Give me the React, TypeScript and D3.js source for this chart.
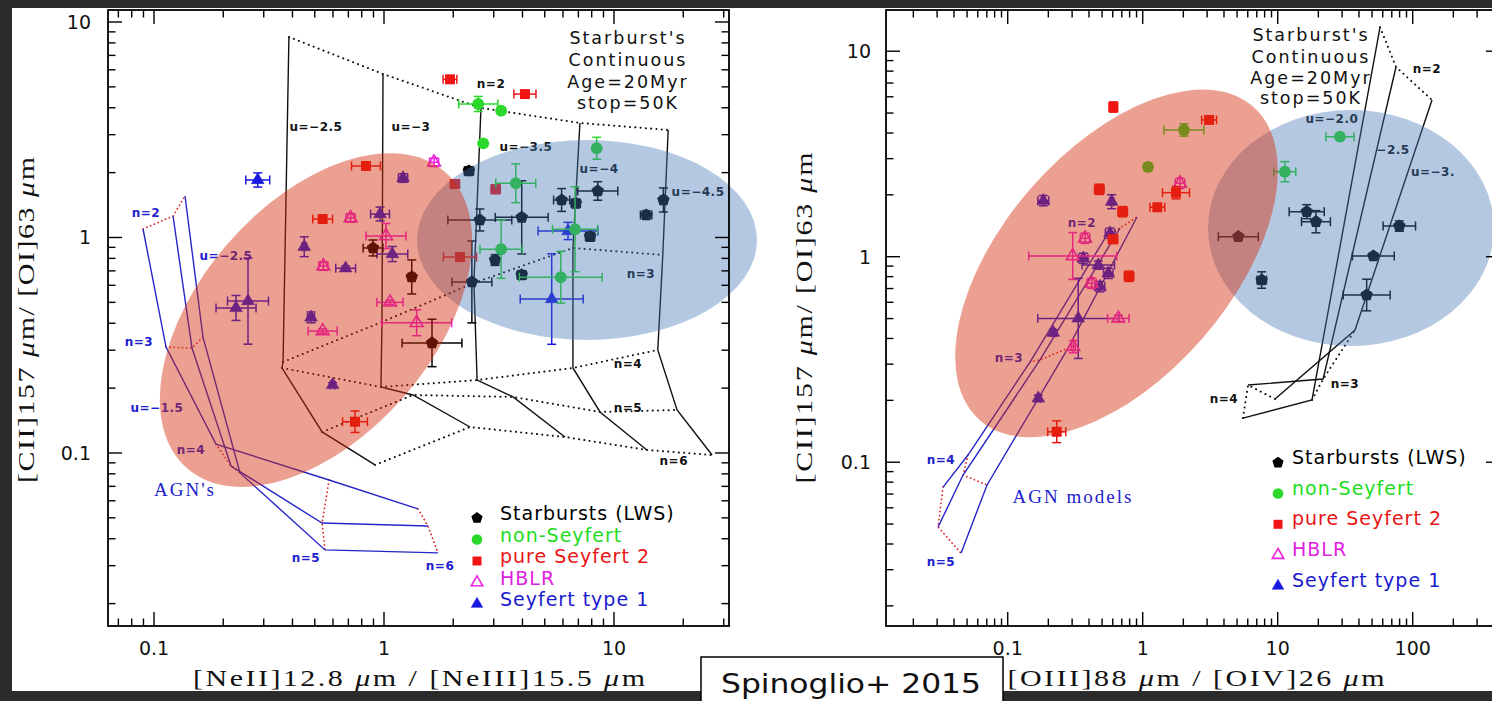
import React from 'react';
import * as d3 from 'd3';

type Pt = [number, number, number, number]; // x, y, x error (dex), y error (dex)
type XY = [number, number];
type Lbl = [string, number, number];

// ---------- [NeII]12.8 / [NeIII]15.5 panel ----------
const neStarbursts: Pt[] = [
  [2.34, 2.035, 0.02, 0.02],
  [0.896, 0.894, 0.043, 0.037],
  [1.32, 0.656, 0.015, 0.079],
  [1.617, 0.324, 0.13, 0.11],
  [2.61, 1.206, 0.139, 0.051],
  [2.41, 0.622, 0.087, 0.19],
  [3.97, 1.24, 0.115, 0.17],
  [8.5, 1.644, 0.087, 0.043],
  [5.92, 1.493, 0.035, 0.053],
  [6.82, 1.441, 0.02, 0.02],
  [16.4, 1.493, 0.015, 0.056],
  [13.8, 1.272, 0.025, 0.02],
  [7.87, 1.009, 0.02, 0.02],
  [3.04, 0.786, 0.015, 0.025],
  [3.97, 0.67, 0.02, 0.02],
];
const neNonSeyfert: Pt[] = [
  [2.57, 4.165, 0.085, 0.035],
  [3.23, 3.876, 0.01, 0.01],
  [2.7, 2.735, 0.01, 0.01],
  [8.41, 2.594, 0.01, 0.051],
  [3.74, 1.785, 0.087, 0.09],
  [6.77, 1.092, 0.098, 0.197],
  [3.23, 0.882, 0.092, 0.135],
  [5.87, 0.654, 0.18, 0.12],
];
const neSeyfert2: Pt[] = [
  [1.936, 5.42, 0.03, 0.015],
  [4.1, 4.63, 0.048, 0.01],
  [0.835, 2.147, 0.063, 0.01],
  [0.541, 1.218, 0.043, 0.01],
  [2.035, 1.771, 0.02, 0.015],
  [3.06, 1.674, 0.02, 0.02],
  [2.14, 0.812, 0.072, 0.01],
  [0.748, 0.1397, 0.054, 0.05],
];
const neHBLR: Pt[] = [
  [0.716, 1.232, 0.02, 0.02],
  [1.65, 2.233, 0.02, 0.02],
  [1.02, 1.016, 0.087, 0.058],
  [0.545, 0.737, 0.02, 0.02],
  [1.062, 0.5, 0.057, 0.01],
  [0.541, 0.368, 0.063, 0.01],
  [1.387, 0.402, 0.152, 0.06],
];
const neSeyfert1: Pt[] = [
  [0.2825, 1.849, 0.052, 0.033],
  [0.2273, 0.471, 0.087, 0.058],
  [0.2563, 0.507, 0.089, 0.2],
  [0.45, 0.906, 0.01, 0.046],
  [0.681, 0.72, 0.043, 0.01],
  [0.4815, 0.426, 0.015, 0.025],
  [0.961, 1.285, 0.041, 0.032],
  [1.087, 0.838, 0.067, 0.035],
  [1.21, 1.888, 0.02, 0.02],
  [0.598, 0.207, 0.01, 0.01],
  [5.36, 0.518, 0.137, 0.21],
  [6.31, 1.072, 0.13, 0.04],
];

// starburst photoionisation grid: one row per ionisation parameter, columns n=2..6
const neSbGrid: XY[][] = [
  [[0.386, 8.52], [0.364, 0.2645], [0.36, 0.248], [0.538, 0.1252], [0.914, 0.088]],
  [[0.99, 5.74], [0.98, 0.4055], [0.97, 0.2025], [1.337, 0.1858], [2.365, 0.132]],
  [[2.64, 3.99], [2.46, 0.615], [2.54, 0.218], [3.64, 0.182], [6.12, 0.1186]],
  [[7.11, 3.4], [6.63, 0.894], [6.63, 0.248], [8.69, 0.155], [13.9, 0.1033]],
  [[17.2, 3.155], [16.3, 0.83], [15.5, 0.3006], [18.8, 0.1583], [26.7, 0.0979]],
];
// AGN grid: rows = ionisation parameter, columns n=2..6
const neAgnGrid: XY[][] = [
  [[0.0896, 1.095], [0.1128, 0.31], [0.186, 0.11], [0.577, 0.0749], [1.405, 0.055]],
  [[0.121, 1.258], [0.1463, 0.307], [0.2163, 0.087], [0.538, 0.0473], [1.553, 0.0458]],
  [[0.1364, 1.558], [0.1633, 0.345], [0.2366, 0.0808], [0.554, 0.0355], [1.718, 0.0344]],
];
const neSbLabels: Lbl[] = [
  ['u=−2.5', 0.506, 3.29], ['u=−3', 1.31, 3.29], ['u=−3.5', 4.14, 2.63],
  ['u=−4', 8.61, 2.08], ['u=−4.5', 23.2, 1.64], ['n=2', 2.92, 5.21],
  ['n=3', 13.1, 0.684], ['n=4', 11.5, 0.259], ['n=5', 11.5, 0.1634], ['n=6', 18.2, 0.0918],
];
const neAgnLabels: Lbl[] = [
  ['n=2', 0.0923, 1.313], ['u=−2.5', 0.2056, 0.821], ['n=3', 0.086, 0.3274],
  ['u=−1.5', 0.103, 0.1634], ['n=4', 0.1448, 0.1033], ['n=5', 0.458, 0.0326], ['n=6', 1.752, 0.0302],
];
const neAgnTitle: Lbl = ["AGN's", 0.1364, 0.0673];

// ---------- [OIII]88 / [OIV]26 panel ----------
const oStarbursts: Pt[] = [
  [16.4, 1.656, 0.13, 0.034],
  [19.2, 1.48, 0.107, 0.054],
  [79.6, 1.41, 0.12, 0.025],
  [5.11, 1.251, 0.148, 0.015],
  [51.1, 1.008, 0.155, 0.015],
  [45.6, 0.651, 0.174, 0.077],
  [7.61, 0.77, 0.035, 0.04],
];
const oNonSeyfert: Pt[] = [
  [2.02, 4.136, 0.148, 0.03],
  [1.094, 2.732, 0.02, 0.02],
  [28.9, 3.837, 0.104, 0.01],
  [11.3, 2.592, 0.081, 0.049],
];
const oSeyfert2: Pt[] = [
  [0.606, 5.35, 0.03, 0.025],
  [3.1, 4.63, 0.055, 0.015],
  [0.477, 2.128, 0.035, 0.025],
  [0.711, 1.656, 0.035, 0.025],
  [1.765, 2.049, 0.1, 0.03],
  [1.283, 1.74, 0.055, 0.015],
  [0.603, 1.215, 0.035, 0.02],
  [0.792, 0.803, 0.035, 0.025],
  [0.2307, 0.1407, 0.067, 0.053],
];
const oHBLR: Pt[] = [
  [1.89, 2.276, 0.035, 0.025],
  [0.374, 1.229, 0.035, 0.025],
  [0.303, 1.008, 0.326, 0.114],
  [0.419, 0.742, 0.035, 0.025],
  [0.66, 0.501, 0.08, 0.015],
  [0.306, 0.365, 0.015, 0.03],
];
const oSeyfert1: Pt[] = [
  [0.1835, 1.873, 0.04, 0.025],
  [0.589, 1.852, 0.015, 0.034],
  [0.573, 1.3, 0.035, 0.025],
  [0.363, 0.982, 0.035, 0.025],
  [0.469, 0.911, 0.12, 0.02],
  [0.556, 0.83, 0.035, 0.025],
  [0.483, 0.715, 0.035, 0.025],
  [0.333, 0.501, 0.3, 0.195],
  [0.2177, 0.427, 0.015, 0.015],
  [0.1685, 0.2046, 0.015, 0.015],
];
// starburst grid: rows u=-2.0, -2.5, -3.0; columns n=2..4
const oSbGrid: XY[][] = [
  [[57.3, 13.1], [17.95, 0.2008], [5.53, 0.164]],
  [[75.2, 8.38], [21.7, 0.254], [6.03, 0.2375]],
  [[139, 5.79], [37.4, 0.44], [9.55, 0.203]],
];
// AGN grid: columns n=2..5
const oAgnGrid: XY[][] = [
  [[0.526, 1.233], [0.1463, 0.3073], [0.0508, 0.1084], [0.0332, 0.0757]],
  [[0.679, 1.379], [0.1734, 0.3144], [0.0467, 0.0866], [0.0305, 0.0484]],
  [[0.907, 1.56], [0.28, 0.3594], [0.0703, 0.0775], [0.0451, 0.0361]],
];
const oSbLabels: Lbl[] = [
  ['n=2', 127.6, 8.28], ['u=−2.0', 25.2, 4.68], ['−2.5', 71.5, 3.31],
  ['u=−3.', 141.4, 2.584], ['n=3', 31.5, 0.2429], ['n=4', 4.0, 0.2053],
];
const oAgnLabels: Lbl[] = [
  ['n=2', 0.355, 1.459], ['n=3', 0.1022, 0.325], ['n=4', 0.032, 0.1036], ['n=5', 0.032, 0.0327],
];
const oAgnTitle: Lbl = ['AGN models', 0.3046, 0.0677];

// tick labels
const neXTickLabels = [0.1, 1, 10];
const oXTickLabels = [0.1, 1, 10, 100];
const ciiTickLabels = [0.1, 1, 10];

const classNames = ['Starbursts (LWS)', 'non-Seyfert', 'pure Seyfert 2', 'HBLR', 'Seyfert type 1'];
const sbTitle = ["Starburst's", 'Continuous', 'Age=20Myr', 'stop=50K'];

const STYLE = [
  { shape: 'pentagon', color: '#000000', text: '#000000', open: false },
  { shape: 'circle', color: '#2bd82b', text: '#22dd22', open: false },
  { shape: 'square', color: '#f01414', text: '#e81414', open: false },
  { shape: 'triangle', color: '#ee22dd', text: '#dd22dd', open: true },
  { shape: 'triangle', color: '#1818e0', text: '#1a1acc', open: false },
];
// draw order: Sy1, HBLR, starbursts, Sy2, non-Seyfert
const DRAW_ORDER = [4, 3, 0, 2, 1];

const SANS = 'DejaVu Sans, Verdana, sans-serif';
const SERIF = 'Liberation Serif, Times New Roman, serif';
const TITLE_STRETCH = 1.25;

function pentagon(r: number) {
  const pts = d3.range(5).map((k) => {
    const a = -Math.PI / 2 + (k * 2 * Math.PI) / 5;
    return [r * Math.cos(a), r * Math.sin(a)];
  });
  return 'M' + pts.map((p) => p[0].toFixed(2) + ',' + p[1].toFixed(2)).join('L') + 'Z';
}

function Marker({ k, cx, cy, scale = 1 }: { k: number; cx: number; cy: number; scale?: number }) {
  const st = STYLE[k];
  const t = `translate(${cx},${cy})`;
  if (st.shape === 'pentagon') return <path d={pentagon(6.6 * scale)} transform={t} fill={st.color} />;
  if (st.shape === 'circle')
    return <path d={d3.symbol(d3.symbolCircle, 110 * scale * scale)()!} transform={t} fill={st.color} />;
  if (st.shape === 'square')
    return <path d={d3.symbol(d3.symbolSquare, 100 * scale * scale)()!} transform={t} fill={st.color} />;
  return (
    <path
      d={d3.symbol(d3.symbolTriangle, 70 * scale * scale)()!}
      transform={t}
      fill={st.open ? 'none' : st.color}
      stroke={st.color}
      strokeWidth={st.open ? 1.6 : 0.6}
    />
  );
}

function logTicks(lo: number, hi: number) {
  const out: { v: number; major: boolean }[] = [];
  for (let d = Math.floor(Math.log10(lo)); d <= Math.ceil(Math.log10(hi)); d++) {
    for (let m = 1; m <= 9; m++) {
      const v = m * Math.pow(10, d);
      if (v > lo * 1.001 && v < hi / 1.001) out.push({ v, major: m === 1 });
    }
  }
  return out;
}
const fmt = (v: number) => (v >= 1 ? String(Math.round(v)) : String(+v.toPrecision(1)));

interface PanelCfg {
  id: string;
  frame: { x0: number; x1: number; y0: number; y1: number };
  xDomain: [number, number];
  yDomain: [number, number];
  xLabels: number[];
  yLabels: number[];
  yLabelGap: number;
  series: Pt[][];
  sbGrid: XY[][];
  agnGrid: XY[][];
  sbLabels: Lbl[];
  agnLabels: Lbl[];
  agnTitle: Lbl;
  blue: { cx: number; cy: number; rx: number; ry: number; rot: number };
  red: { cx: number; cy: number; rx: number; ry: number; rot: number };
  titleX: number;
  titleY: number[];
  legend: { mx: number; tx: number; y0: number; dy: number; mOff: number };
  xTitle: { cx: number; y: number; len: number; a: string; b: string; c: string };
  yTitle: { x: number; cy: number; len: number };
}

const panels: PanelCfg[] = [
  {
    id: 'ne',
    frame: { x0: 108, x1: 729, y0: 10, y1: 626 },
    xDomain: [0.063096, 31.623],
    yDomain: [0.015744, 11.368],
    xLabels: neXTickLabels,
    yLabels: ciiTickLabels,
    yLabelGap: 17,
    series: [neStarbursts, neNonSeyfert, neSeyfert2, neHBLR, neSeyfert1],
    sbGrid: neSbGrid,
    agnGrid: neAgnGrid,
    sbLabels: neSbLabels,
    agnLabels: neAgnLabels,
    agnTitle: neAgnTitle,
    blue: { cx: 7.63, cy: 0.974, rx: 170, ry: 100, rot: 0 },
    red: { cx: 0.506, cy: 0.414, rx: 196.5, ry: 116.7, rot: -49 },
    titleX: 628,
    titleY: [44, 66, 88, 109],
    legend: { mx: 477, tx: 500, y0: 513, dy: 21.5, mOff: 5 },
    xTitle: { cx: 419, y: 686, len: 452, a: '[NeII]12.8 ', b: 'm / [NeIII]15.5 ', c: 'm' },
    yTitle: { x: 27.5, cy: 320, len: 326 },
  },
  {
    id: 'o',
    frame: { x0: 886, x1: 1500, y0: 10, y1: 626 },
    xDomain: [0.012543, 443.3],
    yDomain: [0.01596, 15.866],
    xLabels: oXTickLabels,
    yLabels: ciiTickLabels,
    yLabelGap: 15,
    series: [oStarbursts, oNonSeyfert, oSeyfert2, oHBLR, oSeyfert1],
    sbGrid: oSbGrid,
    agnGrid: oAgnGrid,
    sbLabels: oSbLabels,
    agnLabels: oAgnLabels,
    agnTitle: oAgnTitle,
    blue: { cx: 34.9, cy: 1.379, rx: 143, ry: 118, rot: 0 },
    red: { cx: 0.64, cy: 0.927, rx: 208, ry: 114, rot: -49 },
    titleX: 1311,
    titleY: [41, 62.5, 84, 104],
    legend: { mx: 1278, tx: 1292, y0: 456.7, dy: 30.8, mOff: 6 },
    xTitle: { cx: 1196, y: 686, len: 377, a: '[OIII]88 ', b: 'm / [OIV]26 ', c: 'm' },
    yTitle: { x: 806, cy: 318, len: 331 },
  },
];

function ErrBars({ pt, x, y, color }: { pt: Pt; x: any; y: any; color: string }) {
  const [vx, vy, ex, ey] = pt;
  const cx = x(vx), cy = y(vy);
  const cap = 4.5;
  const xl = x(vx / Math.pow(10, ex)), xr = x(vx * Math.pow(10, ex));
  const yt = y(vy * Math.pow(10, ey)), yb = y(vy / Math.pow(10, ey));
  return (
    <g stroke={color} strokeWidth={1.5} fill="none">
      {ex > 0 && (
        <>
          <line x1={xl} x2={xr} y1={cy} y2={cy} />
          <line x1={xl} x2={xl} y1={cy - cap} y2={cy + cap} />
          <line x1={xr} x2={xr} y1={cy - cap} y2={cy + cap} />
        </>
      )}
      {ey > 0 && (
        <>
          <line x1={cx} x2={cx} y1={yt} y2={yb} />
          <line x1={cx - cap} x2={cx + cap} y1={yt} y2={yt} />
          <line x1={cx - cap} x2={cx + cap} y1={yb} y2={yb} />
        </>
      )}
    </g>
  );
}

function Panel({ p }: { p: PanelCfg }) {
  const { x0, x1, y0, y1 } = p.frame;
  const x = d3.scaleLog().domain(p.xDomain).range([x0, x1]);
  const y = d3.scaleLog().domain(p.yDomain).range([y1, y0]);
  const line = d3.line<XY>().x((d) => x(d[0])).y((d) => y(d[1]));
  const sbIso = d3.range(p.sbGrid[0].length).map((j) => p.sbGrid.map((r) => r[j]));
  const agnIso = d3.range(p.agnGrid[0].length).map((j) => p.agnGrid.map((r) => r[j]));
  const xt = logTicks(p.xDomain[0], p.xDomain[1]);
  const yt = logTicks(p.yDomain[0], p.yDomain[1]);
  const MAJ = 14, MIN = 7.5;
  const ell = (e: PanelCfg['blue']) => {
    const cx = x(e.cx), cy = y(e.cy);
    return { cx, cy, rx: e.rx, ry: e.ry, transform: `rotate(${e.rot} ${cx} ${cy})` };
  };
  return (
    <g>
      {/* AGN model grid */}
      {agnIso.map((r, i) => (
        <path key={'an' + i} d={line(r)!} fill="none" stroke="#e02a2a" strokeWidth={1.8}
          strokeDasharray="0.1 4" strokeLinecap="round" />
      ))}
      {p.agnGrid.map((r, i) => (
        <path key={'au' + i} d={line(r)!} fill="none" stroke="#2626c8" strokeWidth={1.4} />
      ))}
      {/* starburst model grid */}
      {sbIso.map((r, i) => (
        <path key={'sn' + i} d={line(r)!} fill="none" stroke="#111" strokeWidth={2}
          strokeDasharray="0.1 5.2" strokeLinecap="round" />
      ))}
      {p.sbGrid.map((r, i) => (
        <path key={'su' + i} d={line(r)!} fill="none" stroke="#111" strokeWidth={1.4} />
      ))}
      {p.sbLabels.map(([t, vx, vy], i) => (
        <text key={'sl' + i} x={x(vx)} y={y(vy) + 4.5} textAnchor="middle" fontFamily={SANS}
          fontWeight="bold" fontSize={12} letterSpacing={0.5} fill="#111">{t}</text>
      ))}
      {p.agnLabels.map(([t, vx, vy], i) => (
        <text key={'al' + i} x={x(vx)} y={y(vy) + 4.5} textAnchor="middle" fontFamily={SANS}
          fontWeight="bold" fontSize={12} letterSpacing={0.5} fill="#2020cc">{t}</text>
      ))}
      <text x={x(p.agnTitle[1])} y={y(p.agnTitle[2]) + 6} textAnchor="middle" fontFamily={SERIF}
        fontSize={19} letterSpacing={2} fill="#2020cc">{p.agnTitle[0]}</text>

      {/* observed galaxies */}
      {DRAW_ORDER.map((k) => (
        <g key={'s' + k}>
          {p.series[k].map((pt, i) => (
            <g key={i}>
              <ErrBars pt={pt} x={x} y={y} color={STYLE[k].color} />
              <Marker k={k} cx={x(pt[0])} cy={y(pt[1])} />
            </g>
          ))}
        </g>
      ))}

      {/* loci of starburst- and AGN-dominated sources */}
      <ellipse {...ell(p.blue)} fill="rgb(67,117,180)" fillOpacity={0.4} />
      <ellipse {...ell(p.red)} fill="rgb(213,44,11)" fillOpacity={0.45} />

      {/* frame and ticks */}
      <rect x={x0} y={y0} width={x1 - x0} height={y1 - y0} fill="none" stroke="#000" strokeWidth={1.8} />
      <g stroke="#000" strokeWidth={1.4}>
        {xt.map((t, i) => {
          const px = x(t.v), L = t.major ? MAJ : MIN;
          return (
            <g key={'xt' + i}>
              <line x1={px} x2={px} y1={y1} y2={y1 - L} />
              <line x1={px} x2={px} y1={y0} y2={y0 + L} />
            </g>
          );
        })}
        {yt.map((t, i) => {
          const py = y(t.v), L = t.major ? MAJ : MIN;
          return (
            <g key={'yt' + i}>
              <line x1={x0} x2={x0 + L} y1={py} y2={py} />
              <line x1={x1} x2={x1 - L} y1={py} y2={py} />
            </g>
          );
        })}
      </g>
      {p.xLabels.map((v) => (
        <text key={'xl' + v} x={x(v)} y={y1 + 29} textAnchor="middle" fontFamily={SANS} fontSize={19} fill="#111">
          {fmt(v)}
        </text>
      ))}
      {p.yLabels.map((v) => (
        <text key={'yl' + v} x={x0 - p.yLabelGap} y={y(v) + 7} textAnchor="end" fontFamily={SANS} fontSize={19} fill="#111">
          {fmt(v)}
        </text>
      ))}

      {/* axis titles */}
      <text transform={`translate(${p.xTitle.cx},${p.xTitle.y}) scale(${TITLE_STRETCH},1)`} x={0} y={0}
        textAnchor="middle" fontFamily={SERIF} fontSize={24} fill="#111"
        textLength={p.xTitle.len / TITLE_STRETCH} lengthAdjust="spacing">
        {p.xTitle.a}
        <tspan fontStyle="italic">μ</tspan>
        {p.xTitle.b}
        <tspan fontStyle="italic">μ</tspan>
        {p.xTitle.c}
      </text>
      <text transform={`translate(${p.yTitle.x},${p.yTitle.cy}) rotate(-90) scale(${TITLE_STRETCH},1)`} x={0} y={6}
        textAnchor="middle" fontFamily={SERIF} fontSize={24} fill="#111"
        textLength={p.yTitle.len / TITLE_STRETCH} lengthAdjust="spacing">
        [CII]157 <tspan fontStyle="italic">μ</tspan>m/ [OI]63 <tspan fontStyle="italic">μ</tspan>m
      </text>

      {/* starburst model description */}
      {sbTitle.map((t, i) => (
        <text key={'tt' + i} x={p.titleX} y={p.titleY[i]} textAnchor="middle" fontFamily={SANS} fontSize={17.5}
          letterSpacing={2} fill="#111">{t}</text>
      ))}

      {/* legend */}
      {classNames.map((name, k) => {
        const cy = p.legend.y0 + k * p.legend.dy;
        return (
          <g key={'lg' + k}>
            <Marker k={k} cx={p.legend.mx} cy={cy + p.legend.mOff} scale={0.9} />
            <text x={p.legend.tx} y={cy + 7} fontFamily={SANS} fontSize={19} letterSpacing={1} fill={STYLE[k].text}>
              {name}
            </text>
          </g>
        );
      })}
    </g>
  );
}

export default function App() {
  return (
    <svg width={1492} height={701} viewBox="0 0 1492 701" xmlns="http://www.w3.org/2000/svg"
      style={{ position: 'absolute', left: 0, top: 0, display: 'block' }}>
      <rect width={1492} height={701} fill="#2b2b2b" />
      <rect x={12} y={8} width={1480} height={683} fill="#ffffff" />
      {panels.map((p) => (
        <Panel key={p.id} p={p} />
      ))}
      <rect x={701} y={657} width={302} height={60} fill="#fff" stroke="#000" strokeWidth={1.5} />
      <text x={721} y={693} fontFamily={SANS} fontSize={27} textLength={260} lengthAdjust="spacingAndGlyphs" fill="#111">
        Spinoglio+ 2015
      </text>
    </svg>
  );
}
